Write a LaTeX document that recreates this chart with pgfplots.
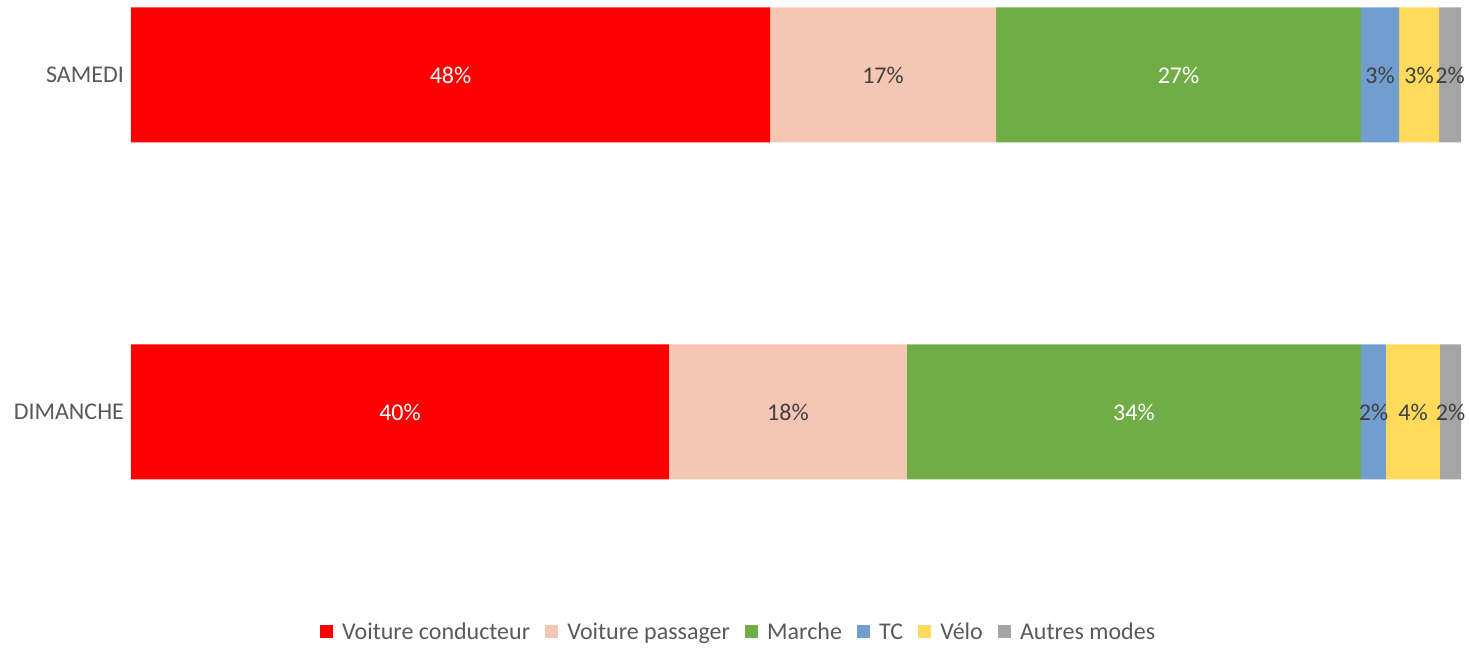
\documentclass[border=0pt]{standalone}
\usepackage{fontspec}
\setmainfont{Carlito}
\usepackage{pgfplots}
\pgfplotsset{compat=1.18}
\usetikzlibrary{calc}
\definecolor{cRed}{HTML}{FF0000}
\definecolor{cPeach}{HTML}{F4C6B3}
\definecolor{cGreen}{HTML}{70AD47}
\definecolor{cBlue}{HTML}{729ECF}
\definecolor{cYellow}{HTML}{FFDA5B}
\definecolor{cGray}{HTML}{A5A5A5}
\definecolor{txt}{HTML}{595959}
\definecolor{dtxt}{HTML}{404040}
\begin{document}
\begin{tikzpicture}[font=\fontsize{12}{14}\selectfont]
\begin{axis}[
  scale only axis,
  width=665pt, height=290.25pt,
  xbar stacked,
  bar width=67.5pt,
  xmin=0, xmax=100,
  ymin=-0.5, ymax=1.2226,
  axis x line=none,
  axis y line*=left,
  y axis line style={draw=none},
  ytick={0,1},
  yticklabels={DIMANCHE,SAMEDI},
  ytick style={draw=none},
  yticklabel style={text=txt, xshift=0pt},
  /pgf/number format/assume math mode=true,
  point meta=rawx,
  nodes near coords={\pgfmathprintnumber[fixed,precision=0]{\pgfplotspointmeta}\%},
  every node near coord/.append style={inner xsep=0pt},
  legend style={at={(0.4595,-0.091)}, anchor=center, draw=none, fill=none,
    legend columns=-1, text=txt,
    nodes={text height=8.5pt, text depth=2.5pt, inner xsep=4.5pt},
    /tikz/every even column/.append style={column sep=3.1pt}},
  legend image code/.code={\fill[#1] (-1pt,-2.4pt) rectangle (5.5pt,4.1pt);},
]
\addplot[fill=cRed, draw=none, nodes near coords style={text=white}] coordinates {(48.05,1) (40.45,0)};
\addlegendentry{Voiture conducteur}
\addplot[fill=cPeach, draw=none, nodes near coords style={text=dtxt}] coordinates {(16.99,1) (17.89,0)};
\addlegendentry{Voiture passager}
\addplot[fill=cGreen, draw=none, nodes near coords style={text=white}] coordinates {(27.44,1) (34.14,0)};
\addlegendentry{Marche}
\addplot[fill=cBlue, draw=none, nodes near coords style={text=dtxt}] coordinates {(2.86,1) (1.88,0)};
\addlegendentry{TC}
\addplot[fill=cYellow, draw=none, nodes near coords style={text=dtxt}] coordinates {(3.01,1) (4.06,0)};
\addlegendentry{Vélo}
\addplot[fill=cGray, draw=none, nodes near coords style={text=dtxt}] coordinates {(1.65,1) (1.58,0)};
\addlegendentry{Autres modes}
\end{axis}
\path ($(current axis.south west)+(-65.5pt,-31.75pt)$) rectangle ($(current axis.north west)+(669pt,0pt)$);
\end{tikzpicture}
\end{document}
